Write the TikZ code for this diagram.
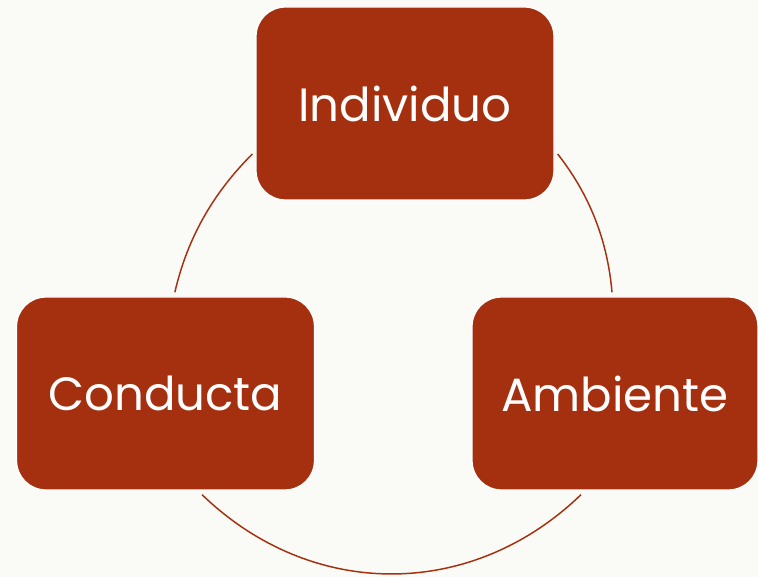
\documentclass[tikz,border=0pt]{standalone}
\usepackage{fontspec}
\setmainfont{Poppins}
\definecolor{rust}{RGB}{165,48,15}
\definecolor{paper}{RGB}{250,250,247}

\begin{document}
\begin{tikzpicture}[x=0.75pt,y=0.75pt,
    stage/.style={draw=white, line width=1pt, fill=rust, rounded corners=22pt,
        minimum width=223.5pt, minimum height=144.75pt, text=white,
        font=\fontsize{35}{40}\selectfont},
    cycle/.style={draw=rust, line width=1.1pt}]
    \fill[paper] (0,0) rectangle (758,577);
    \useasboundingbox (0,0) rectangle (758,577);

    % the three stages
    \node[stage] (ind) at (405,473.5) {Individuo};
    \node[stage] (cond) at (165.5,183.5) {Conducta};
    \node[stage, minimum width=214.5pt] (amb) at (615,183.5) {Ambiente};

    % the cycle
    \draw[cycle] ([xshift=7pt,yshift=3pt]cond.north)
        to[out=77, in=225, looseness=0.9] ([xshift=-2.25pt,yshift=35pt]ind.south west);
    \draw[cycle] ([xshift=2.25pt,yshift=35pt]ind.south east)
        to[out=-52, in=95, looseness=0.9] ([xshift=-2.25pt,yshift=3pt]amb.north);
    \draw[cycle] ([xshift=-25.5pt,yshift=-3pt]amb.south)
        to[out=224, in=-44, looseness=1.03] ([xshift=27.4pt,yshift=-3pt]cond.south);
\end{tikzpicture}
\end{document}
